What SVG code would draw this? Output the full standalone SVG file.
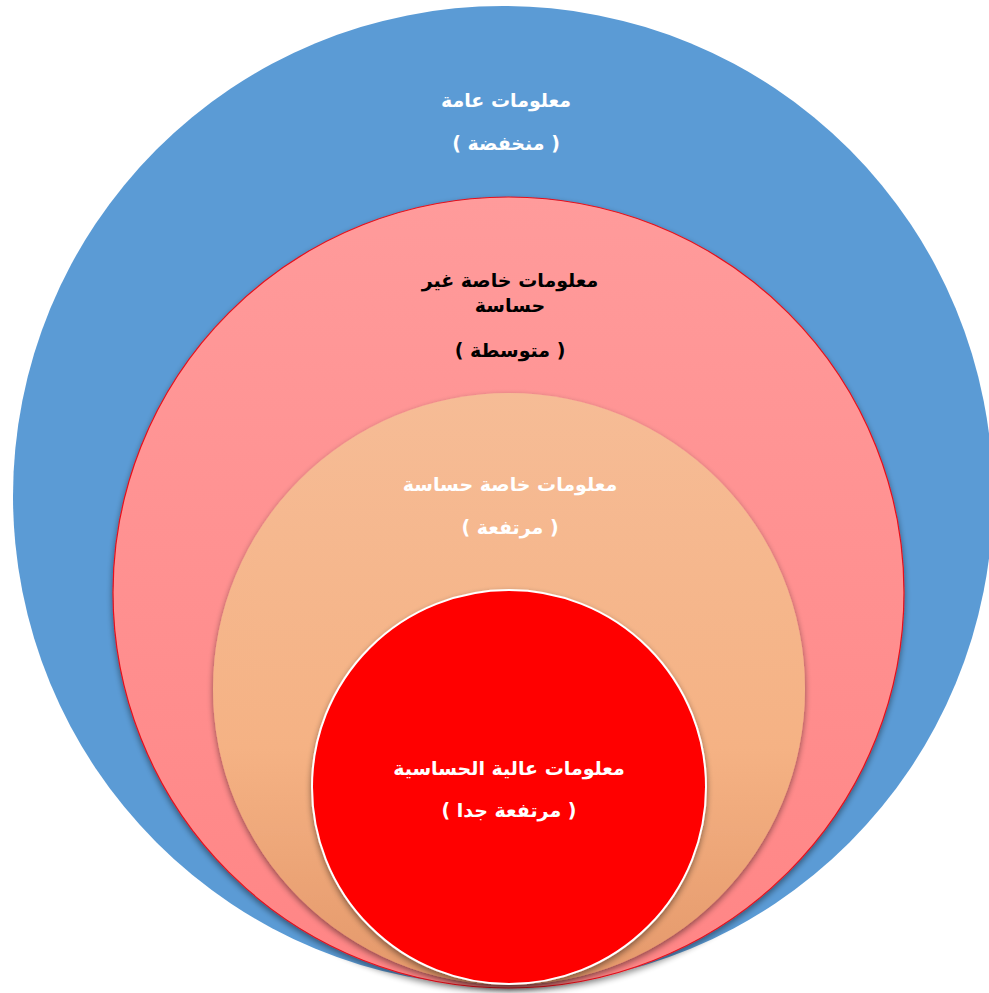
<svg xmlns="http://www.w3.org/2000/svg" width="989" height="993" viewBox="0 0 989 993">
<defs>
<linearGradient id="gPink" x1="0" y1="0" x2="0" y2="1"><stop offset="0" stop-color="#ff9b9b"/><stop offset="1" stop-color="#ff8585"/></linearGradient>
<linearGradient id="gPeach" x1="0" y1="0" x2="0" y2="1"><stop offset="0" stop-color="#f6bc96"/><stop offset="0.6" stop-color="#f5b284"/><stop offset="1" stop-color="#e4986a"/></linearGradient>
<filter id="sh" x="-10%" y="-10%" width="120%" height="120%"><feGaussianBlur in="SourceAlpha" stdDeviation="3"/><feOffset dy="3"/><feComponentTransfer><feFuncA type="linear" slope="0.45"/></feComponentTransfer><feMerge><feMergeNode/><feMergeNode in="SourceGraphic"/></feMerge></filter>
<style>
text{font-family:"DejaVu Sans","Liberation Sans",sans-serif;font-weight:bold;font-size:19px;text-anchor:middle;direction:rtl}
.w{fill:#ffffff}.k{fill:#000000}
</style>
</defs>
<rect width="989" height="993" fill="#ffffff"/>
<g id="general">
<circle cx="503" cy="496" r="490" fill="#5b9bd5"/>
<text class="w" x="506" y="107">معلومات عامة</text>
<text class="w" x="506" y="150">( منخفضة )</text>
</g>
<g id="private">
<circle cx="508.5" cy="592.5" r="395.5" fill="url(#gPink)" stroke="#e8101a" stroke-width="1.2" filter="url(#sh)"/>
<text class="k" x="510" y="287">معلومات خاصة غير</text>
<text class="k" x="510" y="312">حساسة</text>
<text class="k" x="510" y="357">( متوسطة )</text>
</g>
<g id="sensitive">
<circle cx="509" cy="689" r="296" fill="url(#gPeach)" filter="url(#sh)"/>
<text class="w" x="510" y="491">معلومات خاصة حساسة</text>
<text class="w" x="510" y="534">( مرتفعة )</text>
</g>
<g id="high">
<circle cx="509" cy="787" r="197" fill="#ff0000" stroke="#ffffff" stroke-width="2" filter="url(#sh)"/>
<text class="w" x="509" y="775">معلومات عالية الحساسية</text>
<text class="w" x="509" y="817">( مرتفعة جدا )</text>
</g>
<g id="connectors"/>
</svg>
